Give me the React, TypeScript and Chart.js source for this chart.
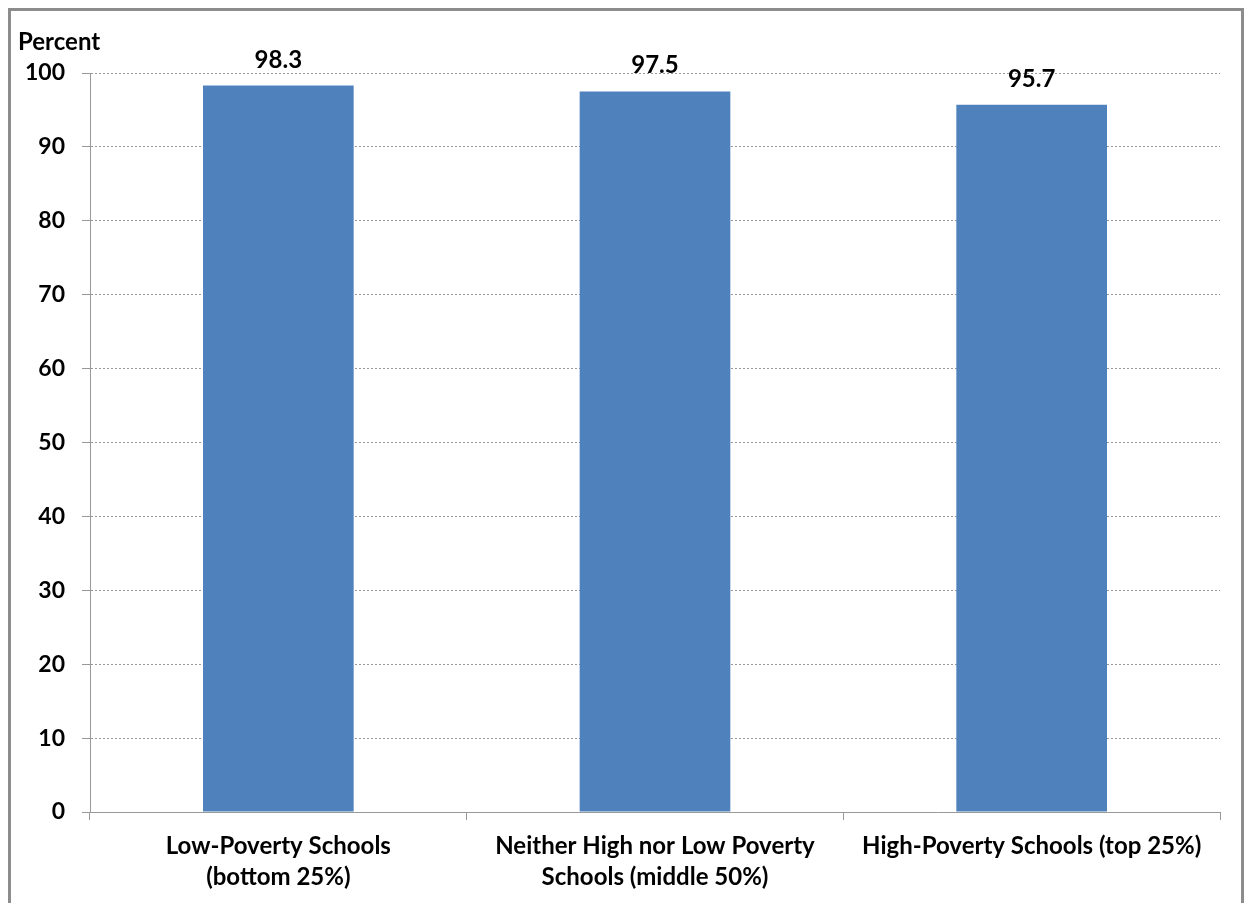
import { useEffect, useRef } from 'react'
import { Chart, registerables } from 'chart.js'

Chart.register(...registerables)

const categories = [
  ['Low-Poverty Schools', '(bottom 25%)'],
  ['Neither High nor Low Poverty', 'Schools (middle 50%)'],
  ['High-Poverty Schools (top 25%)'],
]
const percentValues = [98.3, 97.5, 95.7]
const yTicks = [0, 10, 20, 30, 40, 50, 60, 70, 80, 90, 100]

const FONT = 'Lato, "Open Sans", sans-serif'

const extraText = {
  id: 'extraText',
  afterDatasetsDraw(chart: Chart) {
    const ctx = chart.ctx
    const meta = chart.getDatasetMeta(0)
    ctx.save()
    ctx.fillStyle = '#000'
    ctx.textAlign = 'center'
    ctx.textBaseline = 'alphabetic'
    ctx.font = `bold 24px ${FONT}`
    meta.data.forEach((bar, i) => {
      ctx.fillText(percentValues[i].toFixed(1), bar.x, bar.y - 18)
    })
    // axis unit label
    ctx.textAlign = 'left'
    ctx.font = `bold 24px ${FONT}`
    ctx.fillText('Percent', 18, 50)
    ctx.restore()
  },
}

export default function App() {
  const canvasRef = useRef<HTMLCanvasElement>(null)
  const chartRef = useRef<Chart | null>(null)

  useEffect(() => {
    if (!canvasRef.current) return
    if (chartRef.current) chartRef.current.destroy()

    chartRef.current = new Chart(canvasRef.current, {
      type: 'bar',
      data: {
        labels: categories,
        datasets: [
          {
            data: percentValues,
            backgroundColor: '#4F81BD',
            barPercentage: 0.4,
            categoryPercentage: 1,
          },
        ],
      },
      options: {
        animation: false,
        responsive: false,
        maintainAspectRatio: false,
        layout: { padding: { left: 10, right: 24, top: 73, bottom: 0 } },
        plugins: {
          legend: { display: false },
          tooltip: { enabled: false },
        },
        scales: {
          x: {
            afterFit: (s: any) => {
              s.height = 91
            },
            grid: {
              offset: true,
              drawOnChartArea: false,
              drawTicks: true,
              tickLength: 8,
              color: '#999',
            },
            border: { display: true, color: '#999', width: 1 },
            ticks: {
              color: '#000',
              padding: 11,
              font: { family: FONT, size: 24, weight: 'bold', lineHeight: 31 / 24 },
            },
          },
          y: {
            min: 0,
            max: 100,
            afterFit: (s: any) => {
              s.width = 80
            },
            afterBuildTicks: (s: any) => {
              s.ticks = yTicks.map((v) => ({ value: v }))
            },
            grid: {
              color: '#999',
              tickLength: 8,
              tickColor: '#999',
              tickBorderDash: [],
            },
            border: { display: true, color: '#999', width: 1, dash: [2, 2] },
            ticks: {
              color: '#000',
              padding: 17,
              font: { family: FONT, size: 23, weight: 'bold' },
            },
          },
        },
      },
      plugins: [extraText],
    } as any)

    return () => {
      if (chartRef.current) {
        chartRef.current.destroy()
        chartRef.current = null
      }
    }
  }, [])

  return (
    <div style={{ position: 'fixed', left: 0, top: 0, width: 1244, height: 903, background: '#fff' }}>
      <div
        style={{
          position: 'absolute',
          left: 8,
          top: 8,
          width: 1230,
          height: 900,
          border: '3px solid #8c8c8c',
          borderBottom: 'none',
        }}
      />
      <canvas
        ref={canvasRef}
        width={1244}
        height={903}
        style={{ position: 'absolute', left: 0, top: 0, width: 1244, height: 903 }}
      />
    </div>
  )
}
